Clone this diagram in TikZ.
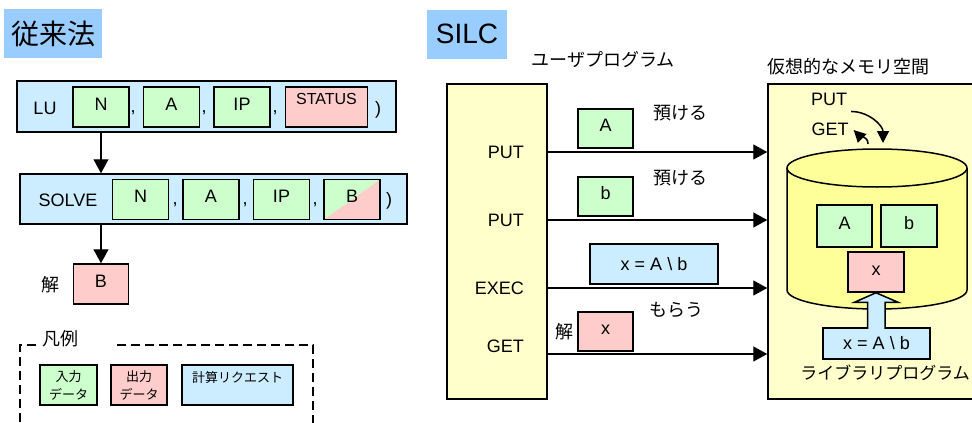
\documentclass[tikz,border=0pt]{standalone}
\usepackage{fontspec}
\setmainfont{Liberation Sans}
\newfontfamily\jp{Noto Sans CJK JP}
\usetikzlibrary{arrows.meta, positioning}
\definecolor{titleblue}{RGB}{153, 204, 255}
\definecolor{reqblue}{RGB}{204, 236, 255}
\definecolor{ingreen}{RGB}{204, 255, 204}
\definecolor{outpink}{RGB}{255, 204, 204}
\definecolor{progyellow}{RGB}{255, 255, 204}
\definecolor{cylyellow}{RGB}{255, 255, 153}

\begin{document}
\begin{tikzpicture}[
    x=1pt, y=-1pt,
    every node/.style={inner sep=0pt, font=\fontsize{18}{21}\selectfont},
    titlebox/.style={rectangle, fill=titleblue, minimum height=49pt, font=\fontsize{28}{32}\selectfont},
    box/.style={rectangle, draw, line width=1.5pt, minimum width=56pt, minimum height=40pt, text height=13pt, text depth=7pt},
    inbox/.style={box, fill=ingreen},
    outbox/.style={box, fill=outpink},
    reqbox/.style={rectangle, draw, line width=1.5pt, fill=reqblue},
    progbox/.style={rectangle, draw, line width=1.5pt, fill=progyellow},
    legendbox/.style={rectangle, draw, line width=1.5pt, minimum height=40pt, align=center, font=\jp\fontsize{13}{18}\selectfont},
    legendline/.style={line width=1.5pt, dash pattern=on 9pt off 5pt},
    cylpart/.style={draw, line width=1.5pt, fill=cylyellow},
    blockarrow/.style={draw, line width=1.5pt, fill=reqblue},
    arrow/.style={-{Triangle[length=14pt, width=15pt]}, line width=1.3pt},
    smallarrow/.style={-{Triangle[length=12pt, width=12pt]}, line width=1.5pt}
]
\useasboundingbox (0,0) rectangle (972,423);
\clip (0,0) rectangle (972,423);

% conventional method
\node[titlebox, minimum width=98pt] (oldtitle) at (53,33.5) {\jp 従来法};

\node[reqbox, minimum width=379pt, minimum height=51pt] (lu) at (206.5,106.5) {};
\node (lulabel) at (45,108) {LU};
\node[inbox] (lun) at (101,107) {N};
\node[inbox, right=13pt of lun] (lua) {A};
\node[inbox, right=13pt of lua] (luip) {IP};
\node[outbox, minimum width=82pt, right=14pt of luip, text height=12pt, text depth=17pt, font=\fontsize{16}{19}\selectfont] (lustatus) {STATUS};
\node (lucomma1) at (133,113) {,};
\node (lucomma2) at (204,113) {,};
\node (lucomma3) at (275,113) {,};
\node (luclose) at (378,110) {)};

\node[reqbox, minimum width=387pt, minimum height=50pt] (solve) at (213.5,199) {};
\node (solvelabel) at (68,200) {SOLVE};
\node[inbox] (sn) at (140.5,199.5) {N};
\node[inbox, right=13pt of sn] (sa) {A};
\node[inbox, right=13pt of sa] (sip) {IP};
\node[inbox, right=13pt of sip, path picture={
    \fill[outpink] (path picture bounding box.south west) -- (path picture bounding box.north east)
        -- (path picture bounding box.south east) -- cycle;}] (sb) {B};
\node (scomma1) at (175,205) {,};
\node (scomma2) at (245,205) {,};
\node (scomma3) at (315,205) {,};
\node (sclose) at (389,201) {)};

\node[outbox, minimum width=55pt] (bsol) at (101,284) {B};
\node (bsollabel) at (50,285) {\jp 解};

\draw[arrow] (lun |- lu.south) -- (lun |- solve.north);
\draw[arrow] (bsol.north |- solve.south) -- (bsol.north);

% legend
\node (legendlabel) at (60,339) {\jp 凡例};
\draw[legendline] (36,345) -- (20,345) -- (20,440);
\draw[legendline] (117,345) -- (313,345) -- (313,440);
\node[legendbox, fill=ingreen, minimum width=57pt] (legin) at (68.5,385) {入力\\データ};
\node[legendbox, fill=outpink, minimum width=56pt] (legout) at (139,385) {出力\\データ};
\node[legendbox, fill=reqblue, minimum width=111pt, text depth=16pt] (legreq) at (237.5,385) {計算リクエスト};

% SILC
\node[titlebox, minimum width=80pt] (silctitle) at (467,34) {SILC};

\node (userlabel) at (603,60) {\jp ユーザプログラム};
\node[progbox, minimum width=100pt, minimum height=315pt] (user) at (497,241.5) {};
\node[anchor=east] (uput) at (524,152) {PUT};
\node[anchor=east] (uput2) at (524,220) {PUT};
\node[anchor=east] (uexec) at (524,288) {EXEC};
\node[anchor=east] (uget) at (524,346) {GET};
\coordinate (getrow) at (547,354);

\node (memlabel) at (848,67) {\jp 仮想的なメモリ空間};
\node[progbox, minimum width=222pt, minimum height=315pt] (mem) at (879,241.5) {};

\draw[arrow] (user.east |- uput.west) -- (mem.west |- uput.west);
\draw[arrow] (user.east |- uput2.west) -- (mem.west |- uput2.west);
\draw[arrow] (user.east |- uexec.west) -- (mem.west |- uexec.west);
\draw[arrow] (getrow) -- (mem.west |- getrow);

\node[inbox, minimum width=55pt, minimum height=39pt] (dataA) at (605.5,128.5) {A};
\node (give1) at (680,113) {\jp 預ける};
\node[inbox, minimum width=55pt, minimum height=39pt] (datab) at (605.5,196.5) {b};
\node (give2) at (680,178) {\jp 預ける};
\node[reqbox, minimum width=128pt, minimum height=40pt] (execreq) at (654,264) {x = A \textbackslash\ b};
\node (take) at (676,310) {\jp もらう};
\node[outbox, minimum width=55pt, minimum height=39pt] (datax) at (605.5,331.5) {x};
\node (xlabel) at (564,332) {\jp 解};

% storage
\filldraw[cylpart] (787,168) -- (787,290) arc[start angle=180, end angle=0, x radius=90, y radius=19] -- (967,168);
\filldraw[cylpart] (877,168) ellipse[x radius=90, y radius=19];
\coordinate (cyltop) at (877,149);

\node (mput) at (829,99) {PUT};
\node (mget) at (830,129) {GET};
\draw[smallarrow] ([shift={(4,6)}]mput.south east) to[out=0, in=90] ([shift={(6,-6)}]cyltop);
\draw[smallarrow] ([shift={(-9,-5)}]cyltop) to[out=90, in=-45] ([shift={(5,1)}]mget.east);

\node[inbox, minimum width=55pt, minimum height=42pt] (memA) at (844.5,226) {A};
\node[inbox, minimum width=56pt, minimum height=42pt] (memb) at (909,226) {b};
\node[outbox] (memx) at (876,272) {x};

\node[reqbox, minimum width=107pt, minimum height=31pt] (libreq) at (876.5,343.5) {x = A \textbackslash\ b};
\filldraw[blockarrow] ([xshift=-9pt, yshift=-1.5pt]libreq.north) -- ++(0,-26.5) -- ++(-13,0)
    -- (memx.south) -- ++(22,9.5) -- ++(-13,0) -- ++(0,26.5);
\node[font=\jp\fontsize{17}{20}\selectfont] (liblabel) at (885,373) {ライブラリプログラム};

\end{tikzpicture}
\end{document}
